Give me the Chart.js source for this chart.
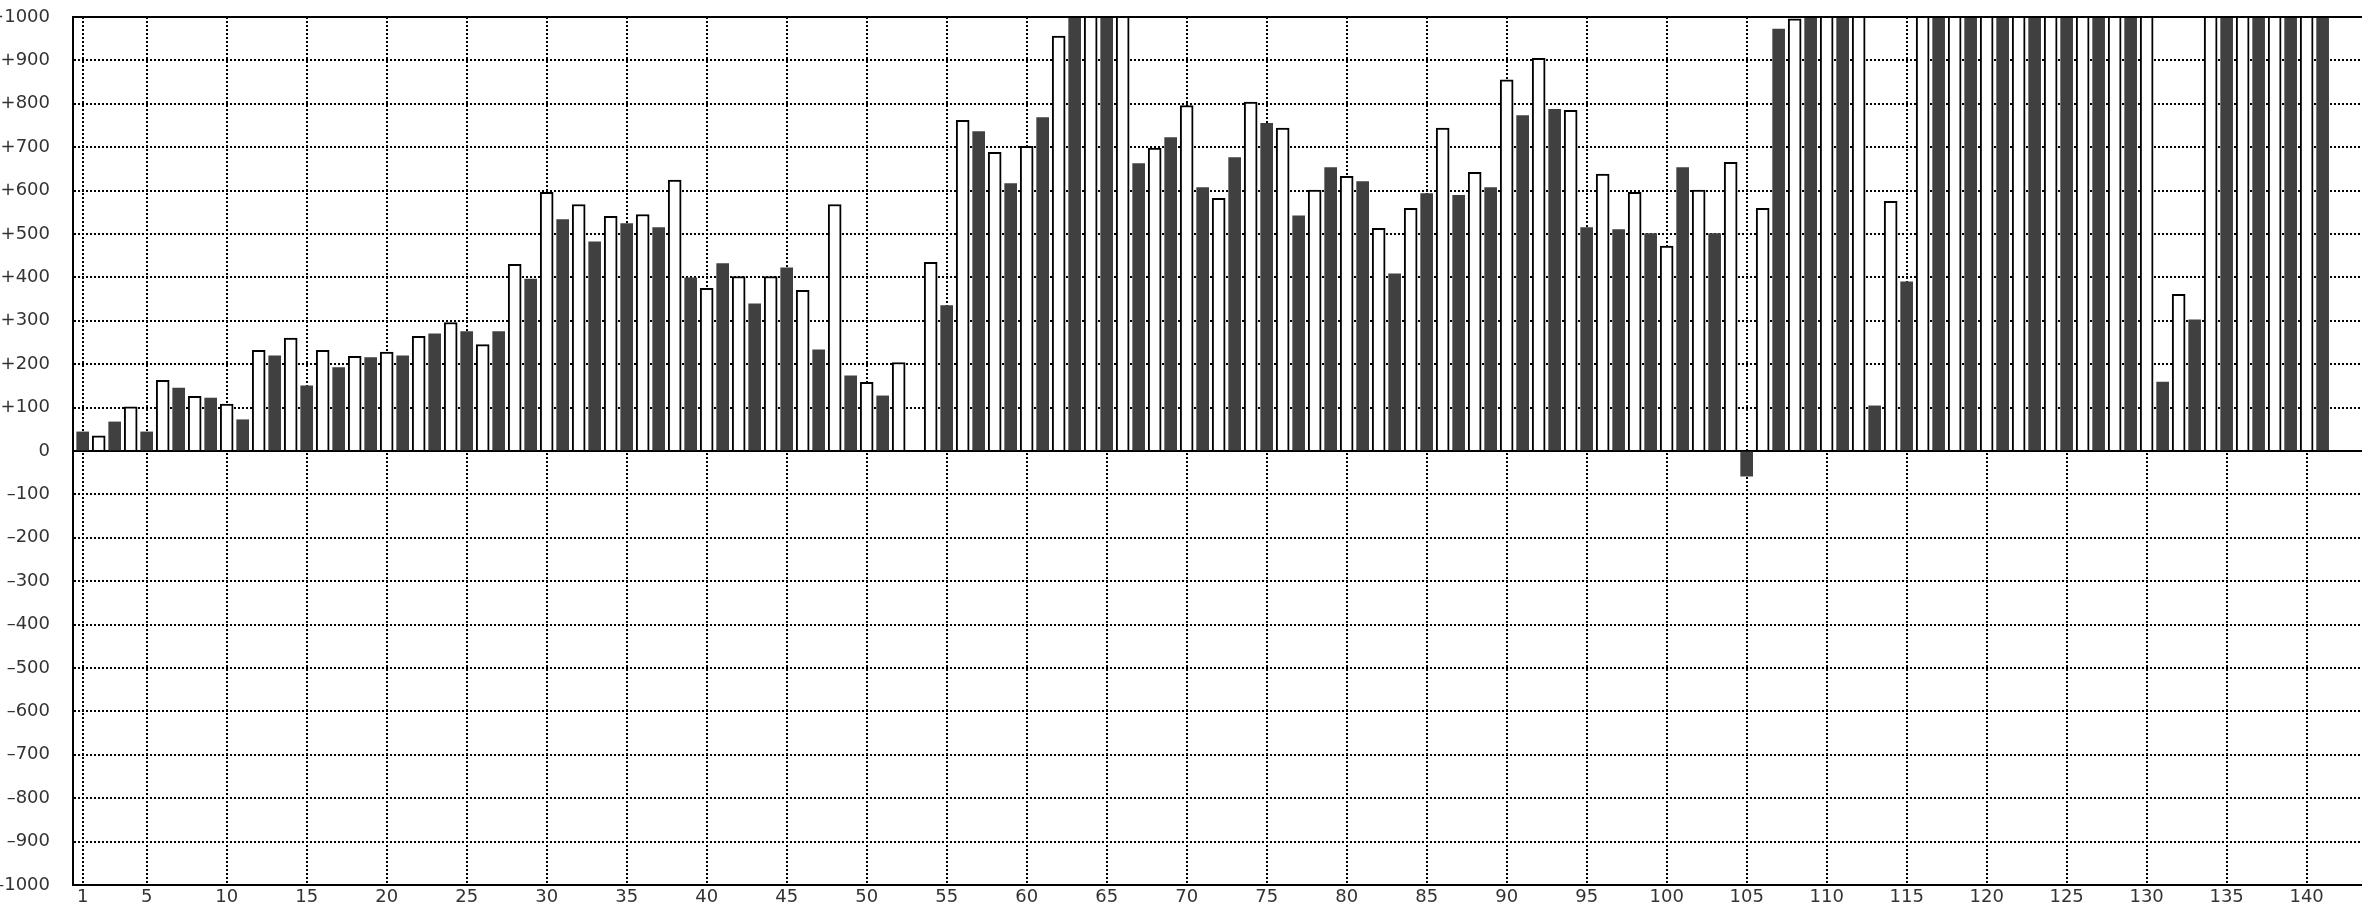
<!DOCTYPE html>
<html>
<head>
<meta charset="utf-8">
<script src="https://cdn.jsdelivr.net/npm/chart.js@4"></script>
<style>
    html, body { margin: 0; padding: 0; background: #fff; }
    #wrap { width: 2362px; height: 906px; position: relative; }
</style>
</head>
<body>
<div id="wrap"><canvas id="chart"></canvas></div>
<script>
// bar numbers along the x axis
const barNumbers = [
    1, 2, 3, 4, 5, 6, 7, 8, 9, 10, 11, 12, 13, 14, 15, 16, 17, 18, 19, 20,
    21, 22, 23, 24, 25, 26, 27, 28, 29, 30, 31, 32, 33, 34, 35, 36, 37, 38, 39, 40,
    41, 42, 43, 44, 45, 46, 47, 48, 49, 50, 51, 52, 53, 54, 55, 56, 57, 58, 59, 60,
    61, 62, 63, 64, 65, 66, 67, 68, 69, 70, 71, 72, 73, 74, 75, 76, 77, 78, 79, 80,
    81, 82, 83, 84, 85, 86, 87, 88, 89, 90, 91, 92, 93, 94, 95, 96, 97, 98, 99, 100,
    101, 102, 103, 104, 105, 106, 107, 108, 109, 110, 111, 112, 113, 114, 115, 116, 117, 118, 119, 120,
    121, 122, 123, 124, 125, 126, 127, 128, 129, 130, 131, 132, 133, 134, 135, 136, 137, 138, 139, 140,
    141
];

// values; 1200 = bar runs off the top of the plot, null = no bar
const barValues = [
    44, 35, 67, 102, 44, 163, 145, 126, 122, 108,
    72, 232, 219, 260, 150, 232, 192, 218, 215, 228,
    219, 264, 270, 296, 275, 245, 275, 430, 396, 596,
    533, 568, 482, 541, 524, 545, 515, 624, 399, 375,
    432, 402, 339, 402, 422, 370, 233, 568, 173, 158,
    127, 204, null, 435, 335, 762, 736, 688, 616, 702,
    768, 956, 1200, 1200, 1200, 1200, 662, 698, 722, 796,
    607, 582, 676, 804, 755, 744, 542, 601, 653, 633,
    621, 513, 408, 559, 593, 744, 589, 642, 607, 855,
    773, 905, 787, 785, 515, 638, 510, 596, 501, 472,
    653, 601, 501, 665, -58, 559, 972, 996, 1200, 1200,
    1200, 1200, 104, 575, 390, 1200, 1200, 1200, 1200, 1200,
    1200, 1200, 1200, 1200, 1200, 1200, 1200, 1200, 1200, 1200,
    159, 361, 302, 1200, 1200, 1200, 1200, 1200, 1200, 1200,
    1200
];

const xTickValues = [1, 5, 10, 15, 20, 25, 30, 35, 40, 45, 50, 55, 60, 65, 70,
    75, 80, 85, 90, 95, 100, 105, 110, 115, 120, 125, 130, 135, 140];

const yTickValues = [-1000, -900, -800, -700, -600, -500, -400, -300, -200, -100, 0,
    100, 200, 300, 400, 500, 600, 700, 800, 900, 1000];
const yTickLabels = ['–1000', '–900', '–800', '–700', '–600', '–500', '–400', '–300', '–200', '–100', '0',
    '+100', '+200', '+300', '+400', '+500', '+600', '+700', '+800', '+900', '+1000'];

// odd bars are dark, even bars are open
const darkBars = [];
const openBars = [];
barNumbers.forEach(function(n, i) {
    if (barValues[i] === null) return;
    const point = { x: n, y: barValues[i] };
    if (n % 2 === 1) {
        darkBars.push(point);
    } else {
        openBars.push(point);
    }
});

const tickFont = { family: 'DejaVu Sans', size: 18 };
const dotted = [2, 2];

new Chart(document.getElementById('chart'), {
    type: 'bar',
    data: {
        datasets: [
            {
                data: darkBars,
                xAxisID: 'x',
                yAxisID: 'y',
                backgroundColor: '#404040',
                borderWidth: 0,
                barThickness: 12
            },
            {
                data: openBars,
                xAxisID: 'x',
                yAxisID: 'y',
                backgroundColor: '#ffffff',
                borderColor: '#000000',
                borderWidth: 2,
                barThickness: 13
            }
        ]
    },
    options: {
        responsive: true,
        maintainAspectRatio: false,
        animation: false,
        grouped: false,
        layout: { padding: { top: 17, left: 0, right: 0, bottom: 0 } },
        plugins: {
            legend: { display: false },
            tooltip: { enabled: false }
        },
        scales: {
            x: {
                type: 'linear',
                position: 'bottom',
                offset: false,
                min: 0.394,
                max: 143.46,
                afterBuildTicks: function(scale) {
                    scale.ticks = xTickValues.map(v => ({ value: v }));
                },
                afterFit: function(scale) {
                    scale.height = 21;
                    scale.paddingLeft = 0;
                    scale.paddingRight = 0;
                },
                ticks: {
                    autoSkip: false,
                    maxRotation: 0,
                    padding: 2,
                    color: '#333',
                    font: tickFont,
                    callback: v => String(v)
                },
                grid: { offset: false, color: '#000', lineWidth: 2, drawTicks: false },
                border: {
                    color: '#000',
                    width: 2,
                    z: 1,
                    dash: ctx => (ctx.tick ? dotted : [])
                }
            },
            y: {
                type: 'linear',
                position: 'left',
                min: -1000,
                max: 1000,
                afterBuildTicks: function(scale) {
                    scale.ticks = yTickValues.map(v => ({ value: v }));
                },
                afterFit: function(scale) {
                    scale.width = 73;
                    // labels may hang over the top and bottom edges, as in the original
                    scale.paddingTop = 0;
                    scale.paddingBottom = 0;
                },
                ticks: {
                    padding: 23,
                    color: '#333',
                    font: tickFont,
                    callback: v => yTickLabels[yTickValues.indexOf(v)]
                },
                grid: { color: '#000', lineWidth: 2, drawTicks: false },
                border: {
                    color: '#000',
                    width: 2,
                    dash: ctx => ((ctx.tick && ctx.tick.value !== 0) ? dotted : [])
                }
            },
            top: {
                type: 'linear',
                position: 'top',
                offset: false,
                afterFit: function(scale) {
                    scale.height = 0;
                    scale.paddingLeft = 0;
                    scale.paddingRight = 0;
                },
                ticks: { display: false },
                grid: { display: false, offset: false, drawTicks: false },
                border: { display: true, color: '#000', width: 2, z: 1 }
            }
        }
    }
});
</script>
</body>
</html>
